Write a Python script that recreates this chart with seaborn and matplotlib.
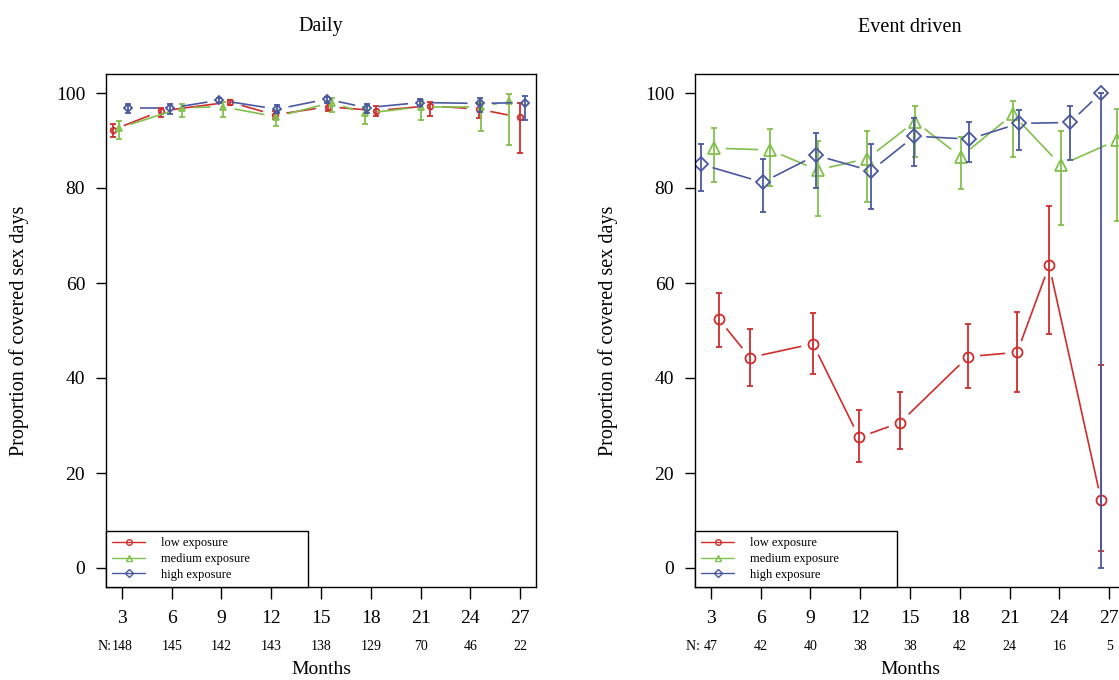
import numpy as np
import matplotlib
matplotlib.use("Agg")
import matplotlib.pyplot as plt
import matplotlib.transforms as mtransforms
from matplotlib.lines import Line2D
import seaborn as sns

# ---------------- data ----------------
month_ticks = [3, 6, 9, 12, 15, 18, 21, 24, 27]
series_names = ["low exposure", "medium exposure", "high exposure"]

n_daily = [148, 145, 142, 143, 138, 129, 70, 46, 22]
n_event = [47, 42, 40, 38, 38, 42, 24, 16, 5]

# Daily
daily_low_x = [2.44, 5.35, 9.51, 12.2, 15.4, 18.32, 21.58, 24.5, 26.97]
daily_low_y = [92.2, 96.2, 98.1, 95.4, 97.1, 96.3, 97.3, 96.6, 94.9]
daily_low_lo = [90.8, 95.0, 97.4, 94.5, 96.2, 95.2, 95.2, 94.7, 87.3]
daily_low_hi = [93.4, 96.9, 98.6, 96.3, 97.8, 97.3, 98.2, 98.0, 97.8]

daily_med_x = [2.82, 6.6, 9.07, 12.3, 15.65, 17.65, 21.03, 24.65, 26.36]
daily_med_y = [92.6, 96.9, 97.1, 95.0, 98.0, 95.7, 97.1, 97.1, 98.3]
daily_med_lo = [90.3, 94.9, 95.0, 93.1, 96.1, 93.5, 94.3, 92.1, 89.0]
daily_med_hi = [94.1, 97.6, 98.2, 96.5, 98.9, 97.1, 98.5, 98.0, 99.7]

daily_high_x = [3.38, 5.9, 8.87, 12.33, 15.35, 17.76, 20.97, 24.56, 27.27]
daily_high_y = [96.8, 96.8, 98.5, 96.6, 98.7, 96.9, 98.0, 97.8, 98.0]
daily_high_lo = [95.7, 95.5, 97.8, 95.7, 98.0, 95.7, 97.3, 96.1, 94.3]
daily_high_hi = [97.6, 97.6, 99.0, 97.5, 99.2, 97.6, 98.7, 98.9, 99.4]

# Event driven
event_low_x = [3.48, 5.35, 9.15, 11.93, 14.40, 18.50, 21.46, 23.39, 26.52]
event_low_y = [52.4, 44.3, 47.2, 27.5, 30.6, 44.5, 45.4, 63.7, 14.3]
event_low_lo = [46.6, 38.3, 40.8, 22.3, 25.0, 38.0, 37.1, 49.2, 3.6]
event_low_hi = [58.0, 50.4, 53.6, 33.2, 37.0, 51.3, 54.0, 76.2, 42.7]

event_med_x = [3.18, 6.56, 9.43, 12.43, 15.30, 18.06, 21.20, 24.09, 27.5]
event_med_y = [88.4, 88.0, 83.8, 86.2, 94.0, 86.6, 95.5, 84.8, 90.1]
event_med_lo = [81.3, 80.4, 74.1, 77.1, 86.5, 79.8, 86.5, 72.2, 73.0]
event_med_hi = [92.6, 92.4, 90.0, 91.9, 97.3, 90.8, 98.3, 92.0, 96.6]

event_high_x = [2.40, 6.12, 9.33, 12.65, 15.26, 18.58, 21.58, 24.65, 26.50]
event_high_y = [85.0, 81.2, 86.9, 83.6, 90.9, 90.3, 93.6, 93.8, 100.0]
event_high_lo = [79.4, 75.0, 79.9, 75.5, 84.7, 85.4, 88.0, 86.0, 0.0]
event_high_hi = [89.2, 86.1, 91.6, 89.3, 94.8, 93.8, 96.4, 97.3, 100.0]

# ---------------- style ----------------
sns.set_theme(style="ticks", rc={
    "axes.edgecolor": "black", "text.color": "black",
    "axes.labelcolor": "black", "xtick.color": "black", "ytick.color": "black",
})
plt.rcParams["font.family"] = ["Liberation Serif", "DejaVu Serif"]

colors = ["#d02c2c", "#82c04c", "#4a58a0"]
markers = ["o", "^", "D"]

fig = plt.figure(figsize=(11.19, 6.80), dpi=100)
W, H = 1119.0, 680.0
ax_w = 430 / W
ax_h = (587 - 74) / H
ax_b = 1 - 587 / H
axL = fig.add_axes([106 / W, ax_b, ax_w, ax_h])
axR = fig.add_axes([695 / W, ax_b, ax_w, ax_h])


def gapped_lines(ax, x, y, color, gap_px=12, lw=1.2):
    pts = ax.transData.transform(np.column_stack([x, y]))
    inv = ax.transData.inverted()
    for p, q in zip(pts[:-1], pts[1:]):
        d = q - p
        L = np.hypot(d[0], d[1])
        if L > 2 * gap_px:
            u = d / L
            seg = inv.transform(np.vstack([p + u * gap_px, q - u * gap_px]))
            ax.plot(seg[:, 0], seg[:, 1], color=color, lw=lw, solid_capstyle="butt")


def panel(ax, title, data, n_list, msizes, capsize, nprefix):
    ax.set_xlim(2.04, 27.96)
    ax.set_ylim(-4, 104)
    for (x, y, lo, hi), c, m, ms in zip(data, colors, markers, msizes):
        x = np.asarray(x); y = np.asarray(y)
        lo = np.asarray(lo); hi = np.asarray(hi)
        gapped_lines(ax, x, y, c)
        ax.errorbar(x, y, yerr=[y - lo, hi - y], fmt="none", ecolor=c,
                    elinewidth=1.3, capsize=capsize, capthick=1.3)
        sns.lineplot(x=x, y=y, ax=ax, color=c, marker=m, linestyle="none",
                     markersize=ms, markerfacecolor="none", markeredgecolor=c,
                     markeredgewidth=1.3, estimator=None, sort=False, legend=False)
    ax.set_xticks(month_ticks)
    ax.set_xticklabels([str(t) for t in month_ticks])
    ax.set_yticks([0, 20, 40, 60, 80, 100])
    ax.set_yticklabels(["0", "20", "40", "60", "80", "100"])
    ax.tick_params(axis="x", bottom=True, length=8.5, width=1, pad=8, labelsize=14)
    ax.tick_params(axis="y", left=True, length=7, width=1, pad=8, labelsize=14)
    for s in ax.spines.values():
        s.set_visible(True)
        s.set_linewidth(1.0)
        s.set_color("black")
    ax.set_xlabel("")
    ax.set_ylabel("Proportion of covered sex days", fontsize=14.5)
    ax.yaxis.set_label_coords(-0.178, 0.5)
    ax.text(0.5, 1 + 47 / 513, title, transform=ax.transAxes,
            ha="center", va="center", fontsize=14.5)
    ax.text(0.5, -82 / 513, "Months", transform=ax.transAxes,
            ha="center", va="center", fontsize=14)
    trans = mtransforms.blended_transform_factory(ax.transData, ax.transAxes)
    ny = -60 / 513
    for t, n in zip(month_ticks, n_list):
        ax.text(t, ny, str(n), transform=trans, ha="center", va="center",
                fontsize=10, clip_on=False)
    off = len(str(n_list[0])) * 2.5
    ax.annotate(nprefix, xy=(month_ticks[0], ny), xycoords=trans,
                xytext=(-off, 0), textcoords="offset points",
                ha="right", va="center", fontsize=10)
    handles = [Line2D([0], [0], color=c, marker=m, lw=1.0, markersize=s,
                      markerfacecolor="none", markeredgecolor=c, markeredgewidth=1.0)
               for c, m, s in zip(colors, markers, [4, 5, 3.6])]
    leg = ax.legend(handles, series_names, loc="lower left",
                    bbox_to_anchor=(0, 0, 0.47, 1), mode="expand",
                    borderaxespad=0, frameon=True, fancybox=False,
                    edgecolor="black", framealpha=1, fontsize=9,
                    handlelength=2.6, handletextpad=1.3, labelspacing=0.3,
                    borderpad=0.5)
    leg.get_frame().set_linewidth(1.0)


panel(axL, "Daily",
      [(daily_low_x, daily_low_y, daily_low_lo, daily_low_hi),
       (daily_med_x, daily_med_y, daily_med_lo, daily_med_hi),
       (daily_high_x, daily_high_y, daily_high_lo, daily_high_hi)],
      n_daily, [4.0, 5.0, 3.8], 2.0, "N:")
panel(axR, "Event driven",
      [(event_low_x, event_low_y, event_low_lo, event_low_hi),
       (event_med_x, event_med_y, event_med_lo, event_med_hi),
       (event_high_x, event_high_y, event_high_lo, event_high_hi)],
      n_event, [7.2, 9.0, 7.6], 2.4, "N: ")

fig.savefig("out.png", dpi=100)
